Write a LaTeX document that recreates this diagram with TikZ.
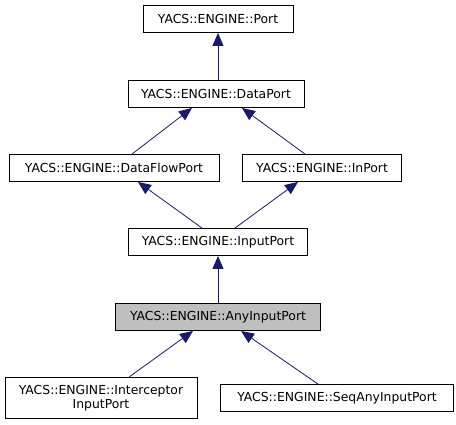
\documentclass[tikz,border=0pt]{standalone}
\usepackage{fontspec}
\setmainfont{DejaVu Sans}
\usetikzlibrary{arrows.meta}
\definecolor{edgeblue}{HTML}{191970}
\definecolor{focusgray}{HTML}{BFBFBF}
\tikzset{
	cls/.style={draw=black,line width=0.9pt,inner sep=0pt,minimum height=27,font=\fontsize{12.4}{14.5}\selectfont,align=center},
	inherit/.style={draw=edgeblue,line width=0.8pt,{Triangle[length=13,width=11]}-}
}
\begin{document}
\begin{tikzpicture}[x=1pt,y=-1pt]
		\useasboundingbox (0,0) rectangle (456,425);
		%classes
		\node[cls,minimum width=150] (port) at (218,19) {YACS::ENGINE::Port};
		\node[cls,minimum width=176] (dataport) at (216,94) {YACS::ENGINE::DataPort};
		\node[cls,minimum width=210] (dataflowport) at (114,168) {YACS::ENGINE::DataFlowPort};
		\node[cls,minimum width=159] (inport) at (322,168) {YACS::ENGINE::InPort};
		\node[cls,minimum width=179] (inputport) at (218,242) {YACS::ENGINE::InputPort};
		\node[cls,minimum width=205,fill=focusgray] (anyinputport) at (218,317) {YACS::ENGINE::AnyInputPort};
		\node[cls,minimum width=192,minimum height=41] (interceptor) at (101,398) {YACS::ENGINE::Interceptor\\InputPort};
		\node[cls,minimum width=233] (seqany) at (337,398) {YACS::ENGINE::SeqAnyInputPort};
		
		%inheritance
		\draw[inherit] (port.south) -- (port.south |- dataport.north);
		\draw[inherit] ([xshift=-24]dataport.south) -- ([xshift=18]dataflowport.north);
		\draw[inherit] ([xshift=26]dataport.south) -- ([xshift=-17]inport.north);
		\draw[inherit] ([xshift=24]dataflowport.south) -- ([xshift=-16]inputport.north);
		\draw[inherit] ([xshift=-24]inport.south) -- ([xshift=17]inputport.north);
		\draw[inherit] (inputport.south) -- (anyinputport.north);
		\draw[inherit] ([xshift=-25]anyinputport.south) -- ([xshift=28]interceptor.north);
		\draw[inherit] ([xshift=23]anyinputport.south) -- ([xshift=-19]seqany.north);
		
\end{tikzpicture}
\end{document}
